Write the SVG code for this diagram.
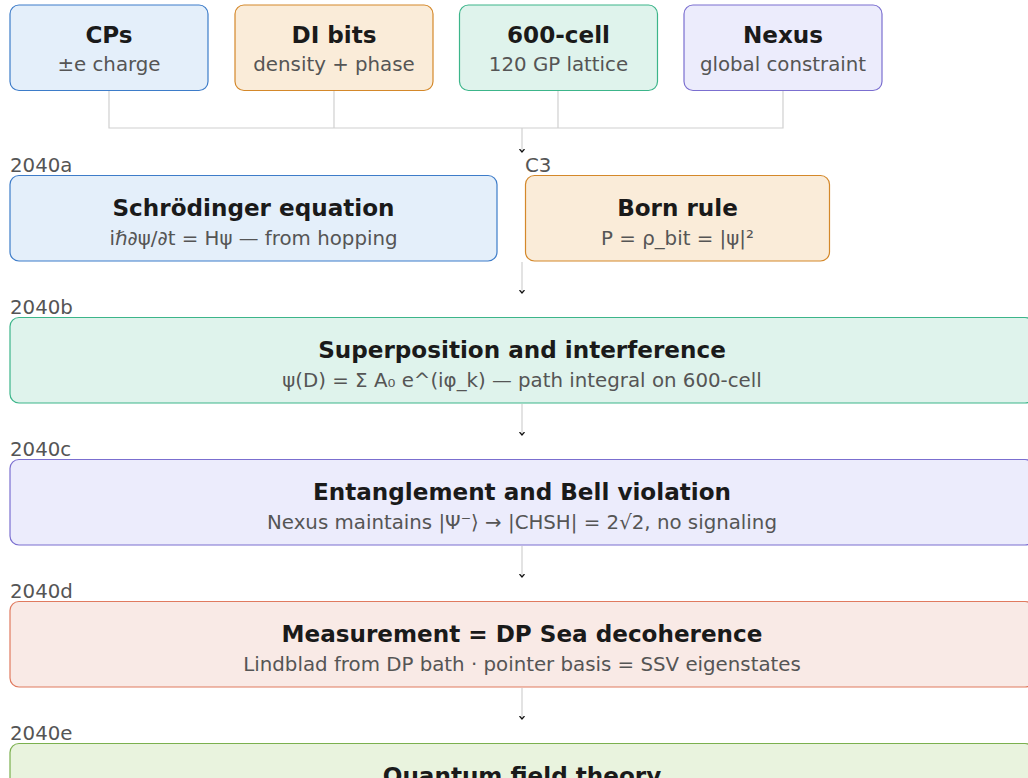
<svg xmlns="http://www.w3.org/2000/svg" width="1028" height="778" viewBox="0 0 1028 778">
<style>
  .t{font-family:"DejaVu Sans",sans-serif;font-weight:bold;font-size:23.1px;fill:#1a1a1a;text-anchor:middle}
  .s{font-family:"DejaVu Sans",sans-serif;font-size:19.8px;fill:#555;text-anchor:middle}
  .l{font-family:"DejaVu Sans",sans-serif;font-size:19.8px;fill:#555}
  .box{stroke-width:1.2}
  .blue{fill:#e4effa;stroke:#3d7cc9}
  .orange{fill:#faecd9;stroke:#d4882a}
  .green{fill:#dff3ec;stroke:#3cb58a}
  .purple{fill:#ececfc;stroke:#7b6fd0}
  .red{fill:#f9eae6;stroke:#e07a5f}
  .lgreen{fill:#e9f3de;stroke:#7bb04e}
  .c{fill:none;stroke:#d0d0d0;stroke-width:1.2}
</style>
<defs>
  <marker id="ah" viewBox="0 0 4 6" refX="3.5" refY="3" markerWidth="4" markerHeight="6" markerUnits="userSpaceOnUse" orient="auto">
    <path d="M0.5,0.5 L3.5,3 L0.5,5.5" fill="none" stroke="#111" stroke-width="1.2"/>
  </marker>
</defs>
<g id="connectors">
  <path class="c" d="M109,91 V128 H783 V91 M334,91 V128 M558,91 V128"/>
  <path class="c" d="M522,128 V152" marker-end="url(#ah)"/>
  <path class="c" d="M522,262 V293" marker-end="url(#ah)"/>
  <path class="c" d="M522,404 V435" marker-end="url(#ah)"/>
  <path class="c" d="M522,546 V577" marker-end="url(#ah)"/>
  <path class="c" d="M522,688 V719" marker-end="url(#ah)"/>
</g>
<g id="cps">
  <rect class="box blue" x="10" y="5" width="198" height="85.5" rx="9"/>
  <text class="t" x="109" y="43">CPs</text>
  <text class="s" x="109" y="71">±e charge</text>
</g>
<g id="dibits">
  <rect class="box orange" x="235" y="5" width="198" height="85.5" rx="9"/>
  <text class="t" x="334" y="43">DI bits</text>
  <text class="s" x="334" y="71">density + phase</text>
</g>
<g id="cell600">
  <rect class="box green" x="459.5" y="5" width="198" height="85.5" rx="9"/>
  <text class="t" x="558.5" y="43">600-cell</text>
  <text class="s" x="558.5" y="71">120 GP lattice</text>
</g>
<g id="nexus">
  <rect class="box purple" x="684" y="5" width="198" height="85.5" rx="9"/>
  <text class="t" x="783" y="43">Nexus</text>
  <text class="s" x="783" y="71">global constraint</text>
</g>
<g id="schrodinger">
  <text class="l" x="10" y="172">2040a</text>
  <rect class="box blue" x="10" y="175.5" width="487" height="85.5" rx="9"/>
  <text class="t" x="253.5" y="216">Schrödinger equation</text>
  <text class="s" x="253.5" y="245">iℏ∂ψ/∂t = Hψ — from hopping</text>
</g>
<g id="born">
  <text class="l" x="525" y="172">C3</text>
  <rect class="box orange" x="525.5" y="175.5" width="304" height="85.5" rx="9"/>
  <text class="t" x="677.5" y="216">Born rule</text>
  <text class="s" x="677.5" y="245">P = ρ_bit = |ψ|²</text>
</g>
<g id="superposition">
  <text class="l" x="10" y="314">2040b</text>
  <rect class="box green" x="10" y="317.5" width="1024" height="85.5" rx="9"/>
  <text class="t" x="522" y="358">Superposition and interference</text>
  <text class="s" x="522" y="387">ψ(D) = Σ A₀ e^(iφ_k) — path integral on 600-cell</text>
</g>
<g id="entanglement">
  <text class="l" x="10" y="456">2040c</text>
  <rect class="box purple" x="10" y="459.5" width="1024" height="85.5" rx="9"/>
  <text class="t" x="522" y="500">Entanglement and Bell violation</text>
  <text class="s" x="522" y="529">Nexus maintains |Ψ⁻⟩ → |CHSH| = 2√2, no signaling</text>
</g>
<g id="measurement">
  <text class="l" x="10" y="598">2040d</text>
  <rect class="box red" x="10" y="601.5" width="1024" height="85.5" rx="9"/>
  <text class="t" x="522" y="642">Measurement = DP Sea decoherence</text>
  <text class="s" x="522" y="671">Lindblad from DP bath · pointer basis = SSV eigenstates</text>
</g>
<g id="qft">
  <text class="l" x="10" y="740">2040e</text>
  <rect class="box lgreen" x="10" y="743.5" width="1024" height="85.5" rx="9"/>
  <text class="t" x="522" y="784">Quantum field theory</text>
</g>
</svg>
